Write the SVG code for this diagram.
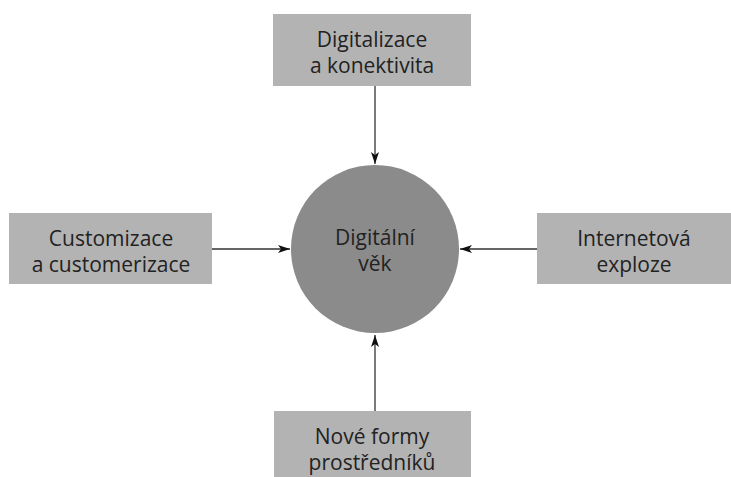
<svg xmlns="http://www.w3.org/2000/svg" width="731" height="477" viewBox="0 0 731 477">
<style>
.box{fill:#b3b3b3;}
.circ{fill:#8b8b8b;}
.t{font-family:"Open Sans",sans-serif;font-size:21px;fill:#222;text-anchor:middle;}
.c{stroke:#333;stroke-width:1.3;fill:none;marker-end:url(#ah);}
</style>
<defs>
<marker id="ah" viewBox="0 0 12 8" refX="12" refY="4" markerWidth="12" markerHeight="8" markerUnits="userSpaceOnUse" orient="auto">
<path d="M0,0 L12,4 L0,8 L3,4 Z" fill="#111"/>
</marker>
</defs>
<rect width="731" height="477" fill="#fff"/>
<g id="connectors">
<line class="c" x1="375" y1="86" x2="375" y2="164"/>
<line class="c" x1="212" y1="249" x2="290" y2="249"/>
<line class="c" x1="537" y1="249" x2="460" y2="249"/>
<line class="c" x1="375" y1="411" x2="375" y2="335"/>
</g>
<g id="center">
<circle class="circ" cx="375" cy="249" r="84"/>
<text class="t"><tspan x="375" y="245">Digitální</tspan><tspan x="375" y="271">věk</tspan></text>
</g>
<g id="top">
<rect class="box" x="273" y="14" width="198" height="72"/>
<text class="t"><tspan x="372" y="47">Digitalizace</tspan><tspan x="372" y="73">a konektivita</tspan></text>
</g>
<g id="left">
<rect class="box" x="9" y="213" width="203" height="71"/>
<text class="t"><tspan x="111" y="246">Customizace</tspan><tspan x="111" y="272">a customerizace</tspan></text>
</g>
<g id="right">
<rect class="box" x="537" y="213" width="194" height="71"/>
<text class="t"><tspan x="634" y="246">Internetová</tspan><tspan x="634" y="272">exploze</tspan></text>
</g>
<g id="bottom">
<rect class="box" x="274" y="411" width="197" height="66"/>
<text class="t"><tspan x="372" y="444">Nové formy</tspan><tspan x="372" y="470">prostředníků</tspan></text>
</g>
</svg>
